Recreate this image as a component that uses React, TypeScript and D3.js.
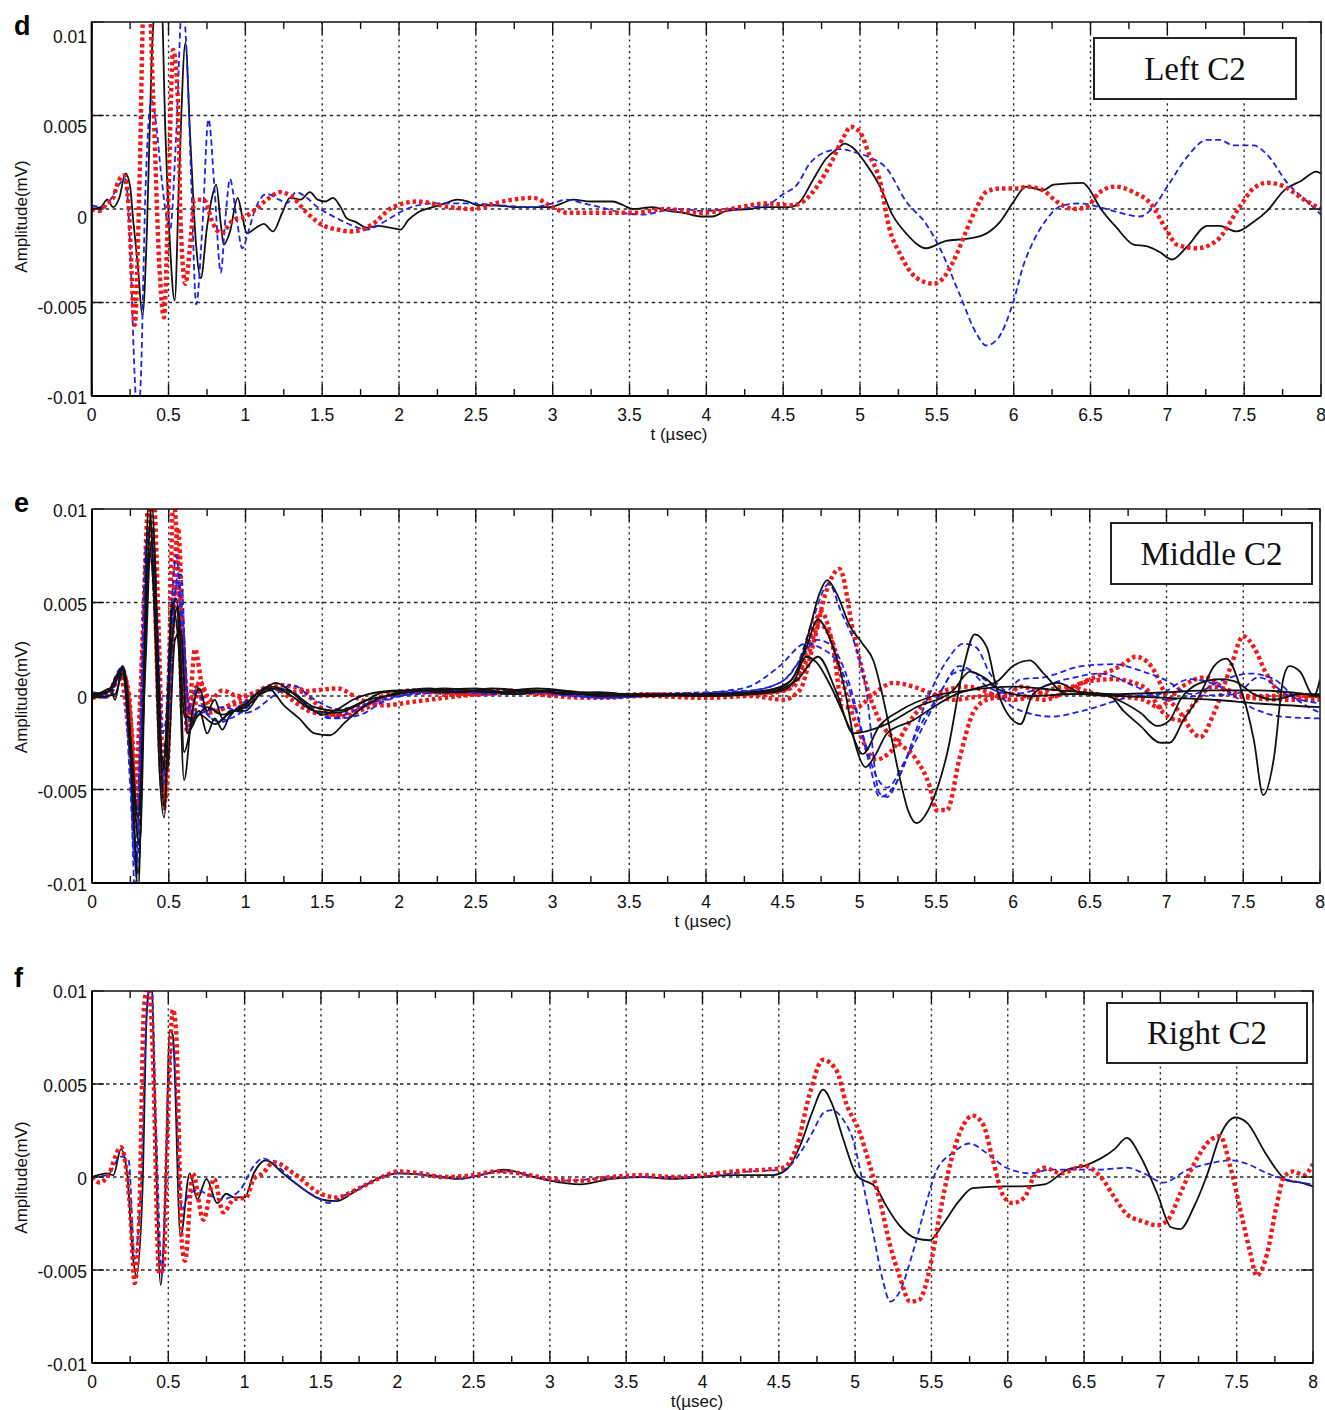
import React from 'react';
import * as d3 from 'd3';

type Pt = [number, number];

// Axis ticks shared by the three panels
const xMajorTicks = [0, 0.5, 1, 1.5, 2, 2.5, 3, 3.5, 4, 4.5, 5, 5.5, 6, 6.5, 7, 7.5, 8];
const xTickLabels = ['0', '0.5', '1', '1.5', '2', '2.5', '3', '3.5', '4', '4.5', '5', '5.5', '6', '6.5', '7', '7.5', '8'];
const xMinorTicks = [0.25, 0.75, 1.25, 1.75, 2.25, 2.75, 3.25, 3.75, 4.25, 4.75, 5.25, 5.75, 6.25, 6.75, 7.25, 7.75];
const yTicks = [0.01, 0.005, 0, -0.005, -0.01];
const yTickLabels = ['0.01', '0.005', '0', '-0.005', '-0.01'];

// ---- Panel d : Left C2 ----
const dBlack: Pt[] = [[0,0],[0.06,0.0001],[0.1,0.0005],[0.14,0.0001],[0.18,0.0006],[0.22,0.0019],[0.25,0.0012],[0.27,-0.0006],[0.3,-0.003],[0.33,-0.0057],[0.36,-0.001],[0.39,0.008],[0.42,0.0115],[0.45,0.012],[0.48,0.004],[0.51,-0.002],[0.54,-0.0049],[0.57,0.002],[0.61,0.0089],[0.64,0.004],[0.68,-0.002],[0.71,-0.0037],[0.75,-0.001],[0.78,0.0005],[0.81,0.0013],[0.84,-0.0008],[0.86,-0.0019],[0.9,-0.0012],[0.95,0.0006],[0.98,-0.0004],[1.01,-0.0013],[1.07,-0.001],[1.12,-0.0008],[1.18,-0.0012],[1.24,-0.0002],[1.29,0.0006],[1.36,0.0005],[1.42,0.0009],[1.47,0.0005],[1.52,0.0004],[1.57,0.0006],[1.62,0.0001],[1.66,-0.0005],[1.72,-0.0007],[1.79,-0.001],[1.86,-0.0009],[1.94,-0.001],[2.01,-0.0011],[2.06,-0.0006],[2.12,-0.0002],[2.22,0.0001],[2.3,0.0003],[2.38,0.0005],[2.45,0.0004],[2.51,0.0002],[2.6,0.0002],[2.77,0.0001],[2.9,0.0001],[2.98,0.0001],[3.06,0.0003],[3.13,0.0005],[3.25,0.0004],[3.39,0.0004],[3.46,0.0002],[3.52,0],[3.65,0.0001],[3.75,-0.0001],[3.85,-0.0002],[3.96,-0.0004],[4.04,-0.0004],[4.13,-0.0001],[4.28,0],[4.39,0.0001],[4.54,0.0001],[4.61,0.0004],[4.69,0.0015],[4.78,0.0027],[4.85,0.0032],[4.9,0.0035],[4.95,0.0033],[5.04,0.0024],[5.13,0.0012],[5.21,-0.0003],[5.3,-0.0013],[5.43,-0.0021],[5.56,-0.0017],[5.69,-0.0016],[5.8,-0.0014],[5.91,-0.0007],[6.0,0.0004],[6.08,0.0012],[6.19,0.001],[6.26,0.0013],[6.45,0.0014],[6.48,0.0012],[6.56,0.0001],[6.67,-0.001],[6.78,-0.0019],[6.87,-0.002],[6.95,-0.0023],[7.03,-0.0027],[7.13,-0.002],[7.26,-0.0009],[7.34,-0.0009],[7.45,-0.0012],[7.56,-0.0007],[7.65,-0.0001],[7.76,0.001],[7.87,0.0015],[7.97,0.002],[8.0,0.0019]];
const dBlue: Pt[] = [[0,0.0002],[0.08,0.0001],[0.13,0.0006],[0.17,0.0012],[0.22,0.0016],[0.25,-0.002],[0.28,-0.009],[0.3,-0.0115],[0.32,-0.009],[0.35,0.001],[0.39,0.0058],[0.42,0.0045],[0.45,0.002],[0.51,-0.0011],[0.55,0.004],[0.59,0.0112],[0.62,0.008],[0.65,0.001],[0.68,-0.0051],[0.72,-0.001],[0.76,0.0048],[0.8,0.001],[0.84,-0.0034],[0.87,-0.0005],[0.9,0.0016],[0.94,-0.0003],[0.98,-0.0021],[1.02,-0.0012],[1.06,-0.0001],[1.14,0.0008],[1.22,0.0005],[1.27,0.0003],[1.33,0.0009],[1.4,0.0006],[1.47,0.0001],[1.55,-0.0003],[1.62,-0.0006],[1.7,-0.0009],[1.79,-0.0011],[1.86,-0.0009],[1.92,-0.0006],[2.05,0],[2.22,0.0003],[2.44,0.0003],[2.65,0.0002],[2.87,0.0001],[3.0,0.0003],[3.09,0.0005],[3.2,0.0003],[3.31,0.0001],[3.45,-0.0002],[3.59,-0.0003],[3.72,-0.0001],[3.85,0],[3.96,-0.0001],[4.17,0],[4.39,0.0002],[4.5,0.0008],[4.59,0.0013],[4.67,0.0024],[4.76,0.003],[4.87,0.0032],[4.98,0.003],[5.08,0.0027],[5.17,0.0022],[5.3,0.0004],[5.43,-0.0008],[5.52,-0.0021],[5.65,-0.0046],[5.76,-0.0067],[5.82,-0.0073],[5.89,-0.007],[6.0,-0.0049],[6.06,-0.0031],[6.13,-0.0017],[6.21,-0.0006],[6.32,0.0002],[6.43,0.0003],[6.56,0.0001],[6.69,-0.0002],[6.82,-0.0004],[6.91,0.0001],[7.0,0.0012],[7.13,0.0028],[7.26,0.0037],[7.34,0.0037],[7.43,0.0034],[7.56,0.0034],[7.65,0.0029],[7.78,0.0014],[7.91,0.0004],[8.0,-0.0003]];
const dRed: Pt[] = [[0,0],[0.05,-0.0001],[0.1,0.0003],[0.14,0.0006],[0.17,0.0014],[0.21,0.0018],[0.24,0.0002],[0.28,-0.0062],[0.31,0.001],[0.34,0.0115],[0.37,0.012],[0.4,0.006],[0.44,-0.003],[0.47,-0.0058],[0.5,0.001],[0.53,0.0085],[0.56,0.006],[0.58,-0.001],[0.61,-0.004],[0.64,-0.002],[0.67,0.0005],[0.73,0.0005],[0.79,-0.0008],[0.84,-0.0013],[0.92,-0.0006],[1.0,-0.0004],[1.07,0],[1.14,0.0005],[1.23,0.0009],[1.31,0.0006],[1.4,-0.0002],[1.51,-0.0009],[1.6,-0.0011],[1.68,-0.0012],[1.76,-0.0011],[1.83,-0.0008],[1.96,0.0001],[2.12,0.0004],[2.33,0.0001],[2.48,0],[2.62,0.0003],[2.74,0.0005],[2.87,0.0006],[3.0,0.0001],[3.09,-0.0002],[3.31,-0.0002],[3.53,-0.0002],[3.74,0],[3.96,-0.0002],[4.09,-0.0001],[4.22,0.0001],[4.39,0.0003],[4.56,0.0002],[4.63,0.0004],[4.72,0.0012],[4.82,0.0026],[4.89,0.0038],[4.94,0.0044],[5.0,0.0041],[5.06,0.0029],[5.13,0.0015],[5.19,-0.001],[5.26,-0.0024],[5.37,-0.0037],[5.48,-0.004],[5.56,-0.0035],[5.63,-0.0024],[5.69,-0.0012],[5.76,0.0001],[5.82,0.0009],[5.91,0.0011],[6.04,0.0011],[6.08,0.0012],[6.19,0.001],[6.28,0.0004],[6.39,0],[6.47,0.0001],[6.56,0.0009],[6.66,0.0012],[6.78,0.0009],[6.89,0.0003],[7.0,-0.0012],[7.06,-0.0019],[7.19,-0.0021],[7.32,-0.0017],[7.47,0.0001],[7.56,0.0011],[7.65,0.0014],[7.76,0.0012],[7.87,0.0006],[8.0,0]];

// ---- Panel e : Middle C2 ----
const eBlack1: Pt[] = [[0,0],[0.06,0.0002],[0.12,0.0004],[0.15,-0.0002],[0.2,0.0016],[0.23,0.0004],[0.27,-0.006],[0.3,-0.0105],[0.33,-0.002],[0.37,0.0105],[0.41,0.004],[0.44,-0.004],[0.47,-0.0065],[0.52,0.0045],[0.55,0.0052],[0.6,-0.0045],[0.65,-0.001],[0.7,0.0004],[0.75,-0.0008],[0.8,-0.0002],[0.85,-0.0012],[0.9,-0.0008],[1.0,-0.0008],[1.1,0.0002],[1.2,0.0007],[1.3,0.0002],[1.4,-0.0005],[1.5,-0.001],[1.6,-0.0007],[1.7,-0.0002],[1.8,0.0001],[2.0,0.0003],[2.2,0.0003],[2.5,0.0004],[2.7,0.0002],[2.9,0.0003],[3.1,0.0001],[3.3,0.0002],[3.6,0],[4.0,0.0001],[4.3,0.0002],[4.5,0.0005],[4.6,0.0015],[4.67,0.0034],[4.74,0.0055],[4.79,0.0062],[4.85,0.0055],[4.94,0.0037],[5.02,0.0028],[5.09,0.0019],[5.18,-0.0011],[5.26,-0.0043],[5.32,-0.0062],[5.37,-0.0068],[5.46,-0.0059],[5.57,-0.0031],[5.68,0.0016],[5.75,0.0033],[5.83,0.0026],[5.89,0.0005],[6.0,-0.0013],[6.05,-0.0015],[6.13,0.0001],[6.29,0.0007],[6.46,0.0001],[6.63,0],[6.72,-0.0008],[6.83,-0.0016],[6.96,-0.0025],[7.02,-0.0025],[7.11,-0.0013],[7.22,0.0001],[7.31,0.0016],[7.39,0.002],[7.48,0.0005],[7.57,-0.0024],[7.63,-0.0053],[7.7,-0.0033],[7.76,0.0009],[7.8,0.0016],[7.87,0.0013],[7.96,0],[8.0,0.0009]];
const eBlack2: Pt[] = [[0,0],[0.1,0.0002],[0.2,0.0015],[0.25,-0.003],[0.3,-0.0095],[0.35,0.004],[0.39,0.0102],[0.43,0.002],[0.47,-0.006],[0.52,0.005],[0.57,0.002],[0.6,-0.003],[0.65,-0.0015],[0.7,-0.0008],[0.75,-0.002],[0.8,-0.0012],[0.85,-0.0018],[0.9,-0.001],[1.0,-0.0005],[1.1,0.0003],[1.15,0.0004],[1.25,-0.0005],[1.35,-0.0012],[1.45,-0.002],[1.55,-0.0021],[1.65,-0.0014],[1.75,-0.0007],[1.85,-0.0002],[2.0,0.0002],[2.2,0.0004],[2.4,0.0002],[2.6,0.0004],[2.8,0.0003],[3.0,0.0002],[3.2,0.0001],[3.5,0],[3.8,0.0001],[4.1,0.0001],[4.4,0.0003],[4.55,0.0008],[4.65,0.0025],[4.73,0.0041],[4.8,0.0032],[4.9,0.0005],[4.97,-0.0025],[5.04,-0.0038],[5.1,-0.0032],[5.18,-0.002],[5.35,-0.0013],[5.48,-0.0006],[5.63,0.0001],[5.8,0.0005],[5.9,0.0008],[6.0,0.0016],[6.11,0.0019],[6.2,0.0012],[6.35,0.0001],[6.57,0.0001],[6.68,-0.0002],[6.83,-0.0009],[6.94,-0.0016],[7.02,-0.0013],[7.09,-0.0002],[7.22,0.0007],[7.35,0.0009],[7.44,0.0008],[7.57,0.0001],[7.7,-0.0002],[7.87,0.0001],[8.0,0.0001]];
const eBlack3: Pt[] = [[0,0.0001],[0.12,0.0003],[0.2,0.0014],[0.26,-0.004],[0.31,-0.008],[0.36,0.006],[0.4,0.0085],[0.45,-0.003],[0.49,-0.004],[0.54,0.003],[0.58,0.0035],[0.62,-0.002],[0.7,-0.001],[0.8,-0.0015],[0.9,-0.0009],[1.0,-0.0006],[1.1,0.0001],[1.2,0.0004],[1.3,0],[1.45,-0.0008],[1.6,-0.0009],[1.75,-0.0004],[1.9,0.0002],[2.1,0.0003],[2.3,0.0002],[2.5,0.0003],[2.75,0.0001],[3.0,0.0003],[3.3,0],[3.6,0.0001],[4.0,0],[4.3,0.0001],[4.5,0.0003],[4.58,0.0009],[4.65,0.0021],[4.72,0.0018],[4.82,0.0004],[4.94,-0.0018],[5.02,-0.0031],[5.13,-0.0016],[5.26,-0.0008],[5.48,0],[5.7,0.0003],[6.0,0.0005],[6.3,0.0003],[6.7,0.0001],[7.0,0.0002],[7.3,0.0003],[7.6,0.0003],[8.0,0]];
const eBlack4: Pt[] = [[0,-0.0001],[0.15,0.0001],[0.2,0.0012],[0.26,-0.003],[0.3,-0.0065],[0.35,0.002],[0.38,0.0075],[0.43,0.001],[0.46,-0.004],[0.51,0.002],[0.56,0.0048],[0.6,-0.001],[0.66,-0.0012],[0.75,-0.0006],[0.85,-0.001],[1.0,-0.0004],[1.15,0.0005],[1.3,0.0002],[1.45,-0.0006],[1.6,-0.0008],[1.8,-0.0002],[2.0,0.0001],[2.3,0.0004],[2.6,0.0002],[2.9,0.0004],[3.2,0.0002],[3.5,0.0001],[4.0,0],[4.4,0.0002],[4.6,0.0009],[4.73,0.0021],[4.85,0.0002],[4.96,-0.002],[5.15,-0.0016],[5.37,-0.0006],[5.61,0.0003],[5.72,0.0013],[5.81,0.001],[5.92,0.0003],[6.1,0],[6.4,0.0001],[6.7,0],[7.0,-0.0001],[7.3,-0.0002],[7.6,-0.0004],[8.0,-0.0006]];
const eBlue1: Pt[] = [[0,0.0001],[0.1,0.0002],[0.19,0.0015],[0.24,-0.001],[0.28,-0.0105],[0.31,-0.004],[0.35,0.008],[0.39,0.009],[0.43,0.001],[0.46,-0.005],[0.5,0.002],[0.55,0.0075],[0.59,0.002],[0.63,-0.002],[0.68,0.0005],[0.75,-0.001],[0.85,-0.0014],[0.95,-0.0006],[1.1,0.0002],[1.25,0.0004],[1.4,-0.0004],[1.55,-0.0012],[1.7,-0.0008],[1.85,-0.0002],[2.05,0.0002],[2.3,0.0003],[2.6,0.0001],[2.9,0.0002],[3.2,0],[3.5,0.0001],[3.9,0.0001],[4.2,0.0002],[4.45,0.0006],[4.6,0.0018],[4.7,0.0042],[4.8,0.006],[4.88,0.0045],[4.98,0.0025],[5.04,0.0005],[5.13,-0.0052],[5.18,-0.0054],[5.26,-0.0043],[5.44,-0.0002],[5.57,0.0019],[5.68,0.0028],[5.76,0.0026],[5.85,0.0012],[5.96,0.0003],[6.05,0.0009],[6.2,0.001],[6.45,0.0016],[6.65,0.0017],[6.85,0.0013],[6.98,0.0009],[7.17,0.0001],[7.35,0.0008],[7.55,0.0012],[7.7,0.0009],[7.85,-0.0002],[8.0,-0.0009]];
const eBlue2: Pt[] = [[0,0],[0.1,-0.0001],[0.2,0.0012],[0.25,-0.004],[0.29,-0.0095],[0.33,0],[0.37,0.0075],[0.42,0.005],[0.46,-0.002],[0.5,0],[0.56,0.0065],[0.6,0.003],[0.64,-0.0015],[0.7,-0.0005],[0.8,-0.0013],[0.9,-0.0012],[1.0,-0.0007],[1.15,0.0003],[1.3,0.0002],[1.45,-0.0008],[1.6,-0.0012],[1.75,-0.001],[1.9,-0.0003],[2.1,0.0001],[2.4,0.0002],[2.7,0.0001],[3.0,0.0002],[3.3,-0.0001],[3.6,0],[3.95,0.0001],[4.15,0.0003],[4.28,0.0005],[4.48,0.0016],[4.65,0.0028],[4.74,0.0026],[4.87,0.0016],[4.98,-0.0009],[5.07,-0.0038],[5.13,-0.0054],[5.22,-0.0049],[5.37,-0.002],[5.52,0.0001],[5.65,0.0016],[5.76,0.0012],[5.87,0.0005],[6.0,-0.0006],[6.25,-0.0011],[6.45,-0.0008],[6.8,0],[6.95,0.0001],[7.15,0.0009],[7.35,0.0005],[7.55,-0.0006],[7.75,-0.0011],[8.0,-0.0012]];
const eBlue3: Pt[] = [[0,0.0002],[0.12,0.0001],[0.2,0.0016],[0.25,-0.005],[0.28,-0.009],[0.33,0.002],[0.36,0.0085],[0.4,0.006],[0.45,-0.003],[0.49,-0.002],[0.54,0.0055],[0.58,0.0065],[0.62,0],[0.67,-0.001],[0.75,-0.0008],[0.85,-0.0006],[1.0,-0.0009],[1.2,0.0001],[1.3,0.0006],[1.45,-0.0002],[1.6,-0.0007],[1.8,-0.0004],[2.0,0],[2.3,0.0003],[2.55,0.0002],[2.85,0.0003],[3.1,0],[3.4,-0.0001],[3.7,0.0001],[4.0,0.0002],[4.3,0.0003],[4.5,0.0008],[4.62,0.002],[4.72,0.003],[4.8,0.0028],[4.94,0.0005],[5.02,-0.002],[5.11,-0.0043],[5.18,-0.0049],[5.3,-0.0034],[5.48,-0.0006],[5.61,0.0012],[5.7,0.0014],[5.83,0.0005],[6.0,0.0001],[6.35,0.0009],[6.57,0.0012],[6.8,0.0005],[7.0,-0.0002],[7.2,0],[7.45,0.0001],[7.6,0.001],[7.8,0],[8.0,-0.0004]];
const eRed1: Pt[] = [[0,-0.0001],[0.1,0.0001],[0.19,0.0013],[0.24,0.0002],[0.28,-0.005],[0.32,0.001],[0.36,0.0085],[0.4,0.0108],[0.44,0.002],[0.47,-0.006],[0.5,0.001],[0.53,0.0105],[0.56,0.007],[0.59,-0.001],[0.63,-0.001],[0.67,0.0025],[0.72,0.0004],[0.8,-0.0008],[0.9,-0.0005],[1.0,-0.0003],[1.1,0.0002],[1.2,0.0004],[1.3,-0.0002],[1.45,-0.0009],[1.6,-0.001],[1.75,-0.0006],[1.9,0],[2.1,0.0003],[2.4,0.0001],[2.7,0.0003],[3.0,0],[3.3,-0.0001],[3.6,0],[4.0,-0.0001],[4.3,0],[4.5,-0.0002],[4.61,0.0003],[4.7,0.0028],[4.78,0.0055],[4.87,0.0068],[4.96,0.0034],[5.04,0.0007],[5.13,-0.0013],[5.24,-0.0024],[5.37,-0.0034],[5.46,-0.0049],[5.5,-0.0061],[5.57,-0.0061],[5.65,-0.0034],[5.74,-0.0009],[5.83,-0.0002],[5.96,0],[6.05,0.0005],[6.26,0],[6.5,0.0009],[6.7,0.0016],[6.8,0.0021],[6.9,0.0016],[7.0,0],[7.09,-0.0009],[7.18,-0.002],[7.22,-0.0022],[7.31,-0.0009],[7.42,0.0016],[7.5,0.0032],[7.57,0.0026],[7.65,0.0012],[7.76,0.0001],[8.0,0]];
const eRed2: Pt[] = [[0,0.0001],[0.1,0],[0.18,0.0012],[0.25,-0.003],[0.29,-0.007],[0.33,0.003],[0.37,0.0105],[0.41,0.005],[0.45,-0.004],[0.48,-0.0055],[0.52,0.003],[0.56,0.009],[0.6,0.002],[0.65,-0.0015],[0.7,0.0008],[0.77,-0.0002],[0.85,0.0003],[0.95,0],[1.05,0.0001],[1.15,0.0005],[1.3,0.0002],[1.45,0.0003],[1.6,0.0004],[1.75,-0.0002],[1.9,-0.0005],[2.1,-0.0003],[2.4,0],[2.7,0.0002],[3.0,0.0001],[3.3,0],[3.6,0.0001],[3.9,0],[4.2,0.0001],[4.45,0.0002],[4.57,0.0005],[4.7,0.0037],[4.75,0.0045],[4.83,0.0025],[4.89,-0.0006],[4.98,-0.0006],[5.09,0.0001],[5.22,0.0007],[5.35,0.0005],[5.48,0.0001],[5.61,-0.0002],[5.8,0],[6.0,0.0001],[6.2,-0.0002],[6.45,0.0007],[6.65,0.0009],[6.85,0.0005],[6.98,-0.0009],[7.08,-0.0013],[7.2,-0.0002],[7.3,0.0005],[7.55,0],[8.0,0]];
const eRed3: Pt[] = [[0,0],[0.12,0.0002],[0.2,0.0014],[0.26,-0.002],[0.3,-0.006],[0.34,0.004],[0.39,0.009],[0.43,0],[0.46,-0.005],[0.5,-0.001],[0.55,0.006],[0.59,0.0035],[0.62,-0.002],[0.68,0.0005],[0.75,-0.0009],[0.85,-0.0007],[0.95,-0.0002],[1.1,0.0003],[1.2,0.0006],[1.35,0.0004],[1.5,-0.0007],[1.62,-0.0011],[1.8,-0.0006],[2.0,0.0001],[2.25,0.0002],[2.5,0.0001],[2.8,0.0002],[3.1,0.0001],[3.4,0],[3.8,0.0001],[4.2,0.0001],[4.5,0.0003],[4.65,0.0018],[4.74,0.0038],[4.82,0.003],[4.9,0.0005],[5.0,-0.002],[5.11,-0.0034],[5.2,-0.003],[5.35,-0.0011],[5.48,0],[5.7,0.0005],[6.0,-0.0002],[6.35,0.0005],[6.55,0.0001],[6.85,-0.0002],[6.95,-0.0006],[7.1,0.0005],[7.25,0.001],[7.45,0],[7.8,-0.0002],[8.0,-0.0002]];

// ---- Panel f : Right C2 ----
const fBlack: Pt[] = [[0,0],[0.1,0.0002],[0.14,0.0001],[0.19,0.0015],[0.23,0.0002],[0.27,-0.0044],[0.29,-0.0053],[0.33,-0.0009],[0.36,0.009],[0.39,0.0108],[0.41,0.0045],[0.45,-0.0058],[0.48,-0.001],[0.51,0.0079],[0.53,0.0076],[0.58,-0.0032],[0.64,0.0002],[0.69,-0.0012],[0.75,-0.0001],[0.82,-0.0014],[0.88,-0.0009],[0.93,-0.0011],[1.0,-0.0011],[1.06,0.0002],[1.14,0.0009],[1.25,0.0002],[1.36,-0.0005],[1.5,-0.0012],[1.6,-0.0013],[1.7,-0.0009],[1.8,-0.0004],[1.9,0],[2.0,0.0002],[2.2,0.0001],[2.4,-0.0001],[2.55,0.0001],[2.7,0.0004],[2.85,0.0001],[3.0,-0.0002],[3.2,-0.0004],[3.4,-0.0001],[3.6,0],[3.8,-0.0001],[4.0,0],[4.2,0.0001],[4.46,0.0001],[4.55,0.0004],[4.64,0.0017],[4.72,0.0035],[4.79,0.0047],[4.85,0.0039],[4.92,0.0021],[5.01,0.0001],[5.14,-0.0006],[5.2,-0.0015],[5.29,-0.0026],[5.4,-0.0033],[5.49,-0.0034],[5.57,-0.0026],[5.68,-0.0013],[5.77,-0.0006],[5.99,-0.0005],[6.09,-0.0005],[6.24,-0.0004],[6.39,0.0004],[6.5,0.0006],[6.61,0.001],[6.7,0.0015],[6.78,0.0021],[6.87,0.0011],[6.98,-0.0009],[7.07,-0.0027],[7.13,-0.0028],[7.22,-0.0016],[7.31,0.0002],[7.39,0.0022],[7.49,0.0032],[7.57,0.0029],[7.68,0.0014],[7.76,0.0004],[7.83,-0.0002],[7.92,-0.0003],[8.0,-0.0005]];
const fBlue: Pt[] = [[0,0],[0.1,0.0001],[0.19,0.0011],[0.24,0.0009],[0.28,-0.0044],[0.32,-0.0005],[0.36,0.009],[0.39,0.0105],[0.42,0.0027],[0.46,-0.0053],[0.5,0.0045],[0.53,0.0072],[0.59,-0.0018],[0.63,-0.001],[0.69,-0.0007],[0.75,-0.0009],[0.85,-0.0012],[0.97,-0.0007],[1.06,0.0006],[1.12,0.001],[1.21,0.0006],[1.36,-0.0005],[1.5,-0.0012],[1.55,-0.0014],[1.65,-0.001],[1.8,-0.0004],[2.0,0.0002],[2.2,0.0001],[2.4,-0.0001],[2.6,0.0002],[2.75,0.0003],[2.9,0],[3.1,-0.0002],[3.3,-0.0001],[3.6,0],[3.9,0],[4.1,0.0001],[4.31,0.0003],[4.53,0.0004],[4.64,0.0013],[4.72,0.0024],[4.8,0.0035],[4.85,0.0036],[4.92,0.0031],[4.99,0.0019],[5.05,-0.0003],[5.12,-0.0031],[5.18,-0.0055],[5.23,-0.0067],[5.29,-0.0062],[5.38,-0.004],[5.47,-0.0013],[5.53,0.0003],[5.64,0.0013],[5.75,0.0018],[5.86,0.0013],[5.99,0.0005],[6.15,0.0002],[6.28,0.0004],[6.5,0.0004],[6.61,0.0004],[6.78,0.0005],[6.89,0.0002],[7.02,-0.0003],[7.18,0.0004],[7.31,0.0007],[7.46,0.0009],[7.57,0.0007],[7.7,0.0002],[7.81,-0.0001],[8.0,-0.0004]];
const fRed: Pt[] = [[0,0],[0.05,-0.0003],[0.1,0],[0.19,0.0016],[0.25,-0.0018],[0.28,-0.0057],[0.31,-0.002],[0.34,0.009],[0.37,0.0105],[0.4,0.0063],[0.44,-0.0052],[0.47,-0.0048],[0.49,0.0009],[0.53,0.009],[0.55,0.008],[0.59,-0.0037],[0.61,-0.0045],[0.66,0.0002],[0.73,-0.0023],[0.8,-0.0001],[0.86,-0.0019],[0.93,-0.0012],[1.01,-0.0011],[1.06,-0.0001],[1.12,0.0002],[1.19,0.0008],[1.32,0.0002],[1.5,-0.0009],[1.6,-0.0011],[1.75,-0.0006],[1.9,0],[2.0,0.0003],[2.15,0.0002],[2.3,0],[2.5,0.0001],[2.65,0.0003],[2.8,0.0002],[3.0,-0.0001],[3.2,-0.0002],[3.4,0],[3.6,0.0001],[3.8,0],[4.0,0.0001],[4.2,0.0003],[4.42,0.0004],[4.53,0.0005],[4.62,0.0017],[4.7,0.0044],[4.79,0.0063],[4.88,0.0057],[4.94,0.004],[5.03,0.0024],[5.09,0.0008],[5.16,-0.0012],[5.23,-0.0037],[5.29,-0.0053],[5.36,-0.0067],[5.42,-0.0066],[5.49,-0.0049],[5.55,-0.0022],[5.62,0.0006],[5.71,0.0028],[5.77,0.0033],[5.84,0.0028],[5.9,0.001],[5.97,-0.001],[6.03,-0.0014],[6.11,-0.0011],[6.17,0],[6.24,0.0005],[6.35,0.0002],[6.5,0.0006],[6.61,0],[6.7,-0.0011],[6.78,-0.002],[6.89,-0.0024],[6.98,-0.0026],[7.05,-0.0023],[7.13,-0.0009],[7.22,0.0007],[7.33,0.002],[7.39,0.0022],[7.46,0.0005],[7.53,-0.002],[7.59,-0.0041],[7.63,-0.0053],[7.7,-0.0041],[7.76,-0.0016],[7.81,0],[7.87,0.0003],[7.94,0.0001],[8.0,0.0007]];

type Kind = 'black' | 'blue' | 'red';

const lineStyle: Record<Kind, { stroke: string; width: number; dash?: string }> = {
  black: { stroke: '#111111', width: 1.8 },
  blue: { stroke: '#1c22e6', width: 1.8, dash: '6,3.5' },
  red: { stroke: '#f01818', width: 4.4, dash: '3.5,3' },
};

interface PanelSpec {
  id: string;
  letter: string;
  letterY: number;
  left: number;
  right: number;
  top: number;
  bottom: number;
  labelTop: number;
  labelBottom: number;
  legend: string;
  box: [number, number, number, number];
  xTitle: string;
  xTitleX: number;
  series: { kind: Kind; data: Pt[] }[];
}

const panels: PanelSpec[] = [
  {
    id: 'd', letter: 'd', letterY: 35, left: 91.7, right: 1321, top: 22, bottom: 396,
    labelTop: 37, labelBottom: 397.5, legend: 'Left C2', box: [1094, 38, 202, 61],
    xTitle: 't (µsec)', xTitleX: 679,
    series: [
      { kind: 'black', data: dBlack },
      { kind: 'blue', data: dBlue },
      { kind: 'red', data: dRed },
    ],
  },
  {
    id: 'e', letter: 'e', letterY: 512, left: 92, right: 1320, top: 509, bottom: 883,
    labelTop: 511, labelBottom: 885, legend: 'Middle C2', box: [1111, 523, 201, 61],
    xTitle: 't (µsec)', xTitleX: 703,
    series: [
      { kind: 'red', data: eRed1 },
      { kind: 'red', data: eRed2 },
      { kind: 'red', data: eRed3 },
      { kind: 'blue', data: eBlue1 },
      { kind: 'blue', data: eBlue2 },
      { kind: 'blue', data: eBlue3 },
      { kind: 'black', data: eBlack1 },
      { kind: 'black', data: eBlack2 },
      { kind: 'black', data: eBlack3 },
      { kind: 'black', data: eBlack4 },
    ],
  },
  {
    id: 'f', letter: 'f', letterY: 987, left: 92, right: 1313, top: 991, bottom: 1363,
    labelTop: 992, labelBottom: 1365, legend: 'Right C2', box: [1107, 1003, 200, 60],
    xTitle: 't(µsec)', xTitleX: 697,
    series: [
      { kind: 'black', data: fBlack },
      { kind: 'blue', data: fBlue },
      { kind: 'red', data: fRed },
    ],
  },
];

const sans = '"Liberation Sans", Arial, sans-serif';
const serif = '"Liberation Serif", "Times New Roman", serif';

function Panel({ p }: { p: PanelSpec }) {
  const x = d3.scaleLinear().domain([0, 8]).range([p.left, p.right]);
  const y = d3.scaleLinear().domain([-0.01, 0.01]).range([p.bottom, p.top]);
  const yLabel = d3.scaleLinear().domain([-0.01, 0.01]).range([p.labelBottom, p.labelTop]);
  const line = d3
    .line<Pt>()
    .x((d) => x(d[0]))
    .y((d) => y(d[1]))
    .curve(d3.curveMonotoneX);
  const clipId = `clip-${p.id}`;
  const gridColor = '#2a2a2a';
  const midY = (p.top + p.bottom) / 2;

  return (
    <g>
      <defs>
        <clipPath id={clipId}>
          <rect x={p.left} y={p.top} width={p.right - p.left} height={p.bottom - p.top} />
        </clipPath>
      </defs>
      <rect x={p.left} y={p.top} width={p.right - p.left} height={p.bottom - p.top} fill="#fff" />

      {/* dotted grid */}
      {xMajorTicks.slice(1, -1).map((t) => (
        <line key={`gx${t}`} x1={x(t)} x2={x(t)} y1={p.top} y2={p.bottom}
          stroke={gridColor} strokeWidth={1.4} strokeDasharray="2.2,3.6" />
      ))}
      {yTicks.slice(1, -1).map((v) => (
        <line key={`gy${v}`} x1={p.left} x2={p.right} y1={y(v)} y2={y(v)}
          stroke={gridColor} strokeWidth={1.4} strokeDasharray="3.5,3.5" />
      ))}

      {/* waveforms */}
      <g clipPath={`url(#${clipId})`}>
        {p.series.map((s, i) => {
          const st = lineStyle[s.kind];
          return (
            <path key={i} d={line(s.data) || ''} fill="none" stroke={st.stroke}
              strokeWidth={st.width} strokeDasharray={st.dash} strokeLinejoin="round" />
          );
        })}
      </g>

      {/* inward ticks */}
      {xMajorTicks.map((t) => (
        <g key={`tx${t}`}>
          <line x1={x(t)} x2={x(t)} y1={p.bottom} y2={p.bottom - 12} stroke="#111" strokeWidth={1.4} />
          <line x1={x(t)} x2={x(t)} y1={p.top} y2={p.top + 12} stroke="#111" strokeWidth={1.4} />
        </g>
      ))}
      {xMinorTicks.map((t) => (
        <g key={`mx${t}`}>
          <line x1={x(t)} x2={x(t)} y1={p.bottom} y2={p.bottom - 7} stroke="#111" strokeWidth={1.4} />
          <line x1={x(t)} x2={x(t)} y1={p.top} y2={p.top + 7} stroke="#111" strokeWidth={1.4} />
        </g>
      ))}
      {yTicks.map((v) => (
        <g key={`ty${v}`}>
          <line x1={p.left} x2={p.left + 12} y1={y(v)} y2={y(v)} stroke="#111" strokeWidth={1.4} />
          <line x1={p.right} x2={p.right - 12} y1={y(v)} y2={y(v)} stroke="#111" strokeWidth={1.4} />
        </g>
      ))}

      {/* frame */}
      <rect x={p.left} y={p.top} width={p.right - p.left} height={p.bottom - p.top}
        fill="none" stroke="#222" strokeWidth={1.6} />
      <line x1={p.left} x2={p.right} y1={p.bottom} y2={p.bottom} stroke="#000" strokeWidth={2} />
      <line x1={p.left} x2={p.left} y1={p.top} y2={p.bottom} stroke="#000" strokeWidth={2} />

      {/* tick labels */}
      {xMajorTicks.map((t, i) => (
        <text key={`lx${t}`} x={x(t)} y={p.bottom + 25} textAnchor="middle"
          fontFamily={sans} fontSize={17.5} fill="#111">{xTickLabels[i]}</text>
      ))}
      {yTicks.map((v, i) => (
        <text key={`ly${v}`} x={87} y={yLabel(v)} dy="0.36em" textAnchor="end"
          fontFamily={sans} fontSize={17.5} fill="#111">{yTickLabels[i]}</text>
      ))}

      {/* axis titles */}
      <text x={p.xTitleX} y={p.bottom + 44} textAnchor="middle" fontFamily={sans}
        fontSize={17} fill="#111">{p.xTitle}</text>
      <text transform={`translate(27,${midY + (p.labelTop - p.top) / 2}) rotate(-90)`}
        textAnchor="middle" fontFamily={sans} fontSize={17} fill="#111">Amplitude(mV)</text>

      {/* panel letter */}
      <text x={14} y={p.letterY} fontFamily={sans} fontWeight="bold" fontSize={27} fill="#000">{p.letter}</text>

      {/* legend box */}
      <rect x={p.box[0]} y={p.box[1]} width={p.box[2]} height={p.box[3]} fill="#fff"
        stroke="#222" strokeWidth={2} />
      <text x={p.box[0] + p.box[2] / 2} y={p.box[1] + p.box[3] / 2} dy="0.34em"
        textAnchor="middle" fontFamily={serif} fontSize={33} fill="#111">{p.legend}</text>
    </g>
  );
}

export default function App() {
  return (
    <div style={{ position: 'absolute', left: 0, top: 0, width: 1325, height: 1410, background: '#fff' }}>
      <svg width={1325} height={1410} viewBox="0 0 1325 1410" style={{ display: 'block' }}>
        <rect width={1325} height={1410} fill="#fff" />
        {panels.map((p) => (
          <Panel key={p.id} p={p} />
        ))}
      </svg>
    </div>
  );
}
